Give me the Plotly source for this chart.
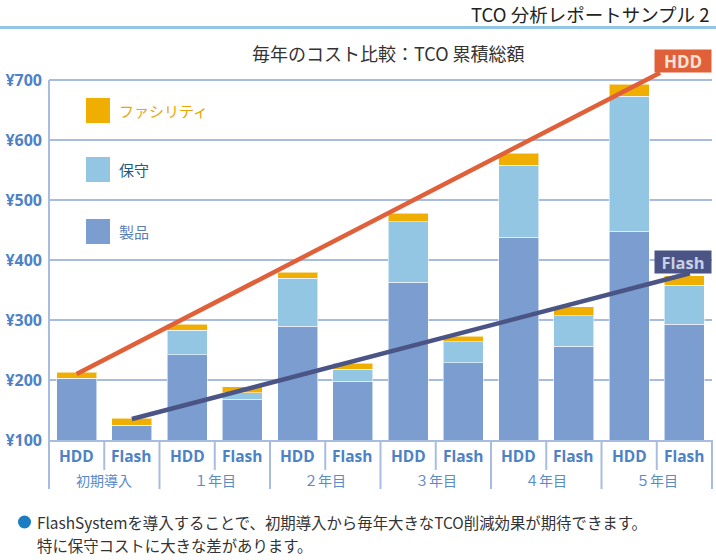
import plotly.graph_objects as go

# ---------------- data ----------------
bar_labels = ["HDD", "Flash"] * 6
group_labels = ["初期導入", "１年目", "２年目", "３年目", "４年目", "５年目"]
product = [203, 125, 242, 168, 290, 198, 363, 229, 438, 256, 448, 293]
maintenance = [0, 0, 41, 11, 80, 20, 101, 35, 120, 51, 225, 65]
facility = [10, 11, 10, 10, 10, 10, 14, 9, 20, 15, 20, 16]
y_ticks = [100, 200, 300, 400, 500, 600, 700]
y_tick_text = ["¥100", "¥200", "¥300", "¥400", "¥500", "¥600", "¥700"]
hdd_trend_x = [0, 10.56]
hdd_trend_y = [210, 712]
flash_trend_x = [1, 11.1]
flash_trend_y = [135, 378]

# ---------------- styling ----------------
C_PROD = "#7b9dd0"
C_MAINT = "#93c6e3"
C_FAC = "#f0ae00"
C_HDD = "#e0603a"
C_FLASH = "#4b5585"
C_AXIS = "#a8bce1"
C_LABEL = "#4d82c6"
LAT = "Open Sans, DejaVu Sans, sans-serif"
JP = "Noto Sans CJK JP, sans-serif"

W, H = 716, 560
ML, MR, MT, MB = 49, 4, 44, 120
PW, PH = W - ML - MR, H - MT - MB


def px2x(px):
    return (px - ML) / PW


def px2y(py):
    return (H - MB - py) / PH


x = list(range(len(bar_labels)))
fig = go.Figure()
bar_line = dict(color="rgba(255,255,255,0.55)", width=1)
fig.add_trace(go.Bar(x=x, y=product, name="製品", marker=dict(color=C_PROD, line=bar_line), width=0.724))
fig.add_trace(go.Bar(x=x, y=maintenance, name="保守", marker=dict(color=C_MAINT, line=bar_line), width=0.724))
fig.add_trace(go.Bar(x=x, y=facility, name="ファシリティ", marker=dict(color=C_FAC, line=bar_line), width=0.724))
fig.add_trace(go.Scatter(x=hdd_trend_x, y=hdd_trend_y, mode="lines",
                         line=dict(color=C_HDD, width=4.5), hoverinfo="skip"))
fig.add_trace(go.Scatter(x=flash_trend_x, y=flash_trend_y, mode="lines",
                         line=dict(color=C_FLASH, width=4.5), hoverinfo="skip"))

shapes = []
annotations = []


def note(xv, yv, text, font, xanchor="center", xref="paper", yref="paper", **kw):
    d = dict(xref=xref, yref=yref, x=xv, y=yv, text=text, showarrow=False, font=font,
             xanchor=xanchor, yanchor="middle")
    d.update(kw)
    annotations.append(d)


# top rule
shapes.append(dict(type="line", xref="paper", yref="paper", x0=px2x(0), x1=px2x(716),
                   y0=px2y(27.5), y1=px2y(27.5), line=dict(color="#93c6e2", width=3)))
# left axis line (from 700 down into category band)
shapes.append(dict(type="line", xref="paper", yref="paper", x0=0, x1=0,
                   y0=px2y(80), y1=px2y(489), line=dict(color=C_AXIS, width=2)))
# right edge of category band
shapes.append(dict(type="line", xref="paper", yref="paper", x0=1, x1=1,
                   y0=0, y1=px2y(489), line=dict(color=C_AXIS, width=2)))
# separators in category band
for i in range(len(bar_labels) - 1):
    bottom = px2y(470) if i % 2 == 0 else px2y(489)
    shapes.append(dict(type="line", xref="x", yref="paper", x0=i + 0.5, x1=i + 0.5,
                       y0=0, y1=bottom, line=dict(color=C_AXIS, width=2)))

# category labels
for i, lab in enumerate(bar_labels):
    note(i, px2y(456), f"<b>{lab}</b>", dict(family=LAT, size=15.5, color=C_LABEL), xref="x")
for g, lab in enumerate(group_labels):
    note(2 * g + 0.5, px2y(480), lab, dict(family=JP, size=14, color="#5a8bc9"), xref="x")

# legend
legend_items = [("ファシリティ", C_FAC, "#e8a600", 98), ("保守", C_MAINT, "#1c5a82", 157),
                ("製品", C_PROD, "#5a7db8", 219)]
for text, col, tcol, top in legend_items:
    shapes.append(dict(type="rect", xref="paper", yref="paper", x0=px2x(86), x1=px2x(110),
                       y0=px2y(top + 25), y1=px2y(top), fillcolor=col, line=dict(width=0)))
    note(px2x(117), px2y(top + 12.5), text, dict(family=JP, size=15, color=tcol), xanchor="left")

# titles
note(px2x(388), px2y(53), "毎年のコスト比較：TCO 累積総額", dict(family=JP, size=18, color="#333333"))
note(px2x(712), px2y(14), "TCO 分析レポートサンプル 2", dict(family=JP, size=18.5, color="#222222"),
     xanchor="right")

# trend labels
note(10.97, 731.7, "<b>HDD</b>", dict(family=LAT, size=17, color="#fbe2d6"), xref="x", yref="y",
     bgcolor=C_HDD, width=56, height=22, borderpad=0)
note(10.97, 397.5, "<b>Flash</b>", dict(family=LAT, size=16.5, color="#c8cfe6"), xref="x", yref="y",
     bgcolor=C_FLASH, width=56, height=22, borderpad=0)

# footnote
shapes.append(dict(type="circle", xref="paper", yref="paper", x0=px2x(18), x1=px2x(31),
                   y0=px2y(528.5), y1=px2y(515.5), fillcolor="#1b7cc4", line=dict(width=0)))
note(px2x(35), px2y(522), "FlashSystemを導入することで、初期導入から毎年大きなTCO削減効果が期待できます。",
     dict(family=JP, size=15.4, color="#333333"), xanchor="left")
note(px2x(35), px2y(545), "特に保守コストに大きな差があります。",
     dict(family=JP, size=15.4, color="#333333"), xanchor="left")

fig.update_layout(
    width=W, height=H, barmode="stack", showlegend=False,
    margin=dict(l=ML, r=MR, t=MT, b=MB, pad=0),
    plot_bgcolor="white", paper_bgcolor="white",
    xaxis=dict(range=[-0.5, 11.5], showticklabels=False, showgrid=False, zeroline=False,
               showline=True, linecolor=C_AXIS, linewidth=2, fixedrange=True),
    yaxis=dict(range=[100, 760], tickvals=y_ticks, ticktext=[f"<b>{t}</b>" for t in y_tick_text],
               tickfont=dict(family=LAT, size=16, color=C_LABEL), showgrid=True,
               gridcolor=C_AXIS, gridwidth=2, zeroline=False, showline=False,
               ticks="", ticklabelstandoff=6),
    shapes=shapes, annotations=annotations,
)

fig.write_html("out.html", config={"displayModeBar": False},
               post_script="document.body.style.margin='0px';")
